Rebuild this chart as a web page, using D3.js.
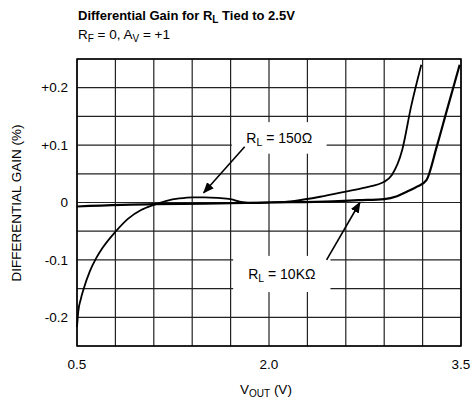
<!DOCTYPE html>
<html>
<head>
<meta charset="utf-8">
<script src="https://cdn.jsdelivr.net/npm/d3@7"></script>
<style>
  body { margin: 0; background: #fff; }
  svg text { font-family: "Liberation Sans", Arial, sans-serif; fill: #000; }
</style>
</head>
<body>
<div id="chart"></div>
<script>
// values
var vOut150 = [0.5, 0.51, 0.53, 0.55, 0.6, 0.65, 0.7, 0.8, 0.9, 1.0, 1.1, 1.2, 1.3, 1.4, 1.5, 1.6, 1.7, 1.78, 1.85, 2.0, 2.2, 2.4, 2.6, 2.75, 2.9, 2.96, 3.04, 3.11, 3.19];
var gain150 = [-0.217, -0.19, -0.168, -0.152, -0.12, -0.097, -0.079, -0.051, -0.028, -0.013, -0.004, 0.003, 0.007, 0.009, 0.009, 0.008, 0.006, 0.001, -0.001, 0.0, 0.003, 0.01, 0.019, 0.026, 0.036, 0.048, 0.091, 0.167, 0.24];
var vOut10k = [0.5, 1.1, 1.5, 2.0, 2.5, 2.7, 2.9, 3.0, 3.08, 3.16, 3.23, 3.31, 3.39, 3.49];
var gain10k = [-0.007, -0.003, -0.002, 0.0, 0.002, 0.004, 0.006, 0.011, 0.019, 0.028, 0.039, 0.097, 0.161, 0.24];
var xTickLabels = ["0.5", "2.0", "3.5"];
var yTickLabels = ["+0.2", "+0.1", "0", "-0.1", "-0.2"];

const margin = { top: 59, right: 14, bottom: 56, left: 77 };
const width = 475 - margin.left - margin.right;
const height = 402 - margin.top - margin.bottom;

const xScale = d3.scaleLinear().domain([0.5, 3.5]).range([0, width]);
const yScale = d3.scaleLinear().domain([-0.25, 0.25]).range([height, 0]);

const root = d3.select('#chart').append('svg')
    .attr('width', 475)
    .attr('height', 402);

root.append('text')
    .attr('x', 78).attr('y', 20)
    .style('font-size', '13px').style('font-weight', 'bold')
    .html('Differential Gain for R<tspan dy="3" font-size="10px">L</tspan><tspan dy="-3"> Tied to 2.5V</tspan>');

root.append('text')
    .attr('x', 78).attr('y', 39)
    .style('font-size', '13.5px')
    .html('R<tspan dy="3" font-size="10px">F</tspan><tspan dy="-3"> = 0, A</tspan><tspan dy="3" font-size="10px">V</tspan><tspan dy="-3"> = +1</tspan>');

const svg = root.append('g')
    .attr('transform', `translate(${margin.left}, ${margin.top})`);

// grid
const gridX = d3.range(0, 11).map(i => 0.5 + i * 0.3);
const gridY = d3.range(0, 11).map(i => -0.25 + i * 0.05);

svg.selectAll('.vgrid').data(gridX).enter().append('line')
    .attr('x1', d => xScale(d)).attr('x2', d => xScale(d))
    .attr('y1', 0).attr('y2', height)
    .attr('stroke', '#222').attr('stroke-width', 1.2);
svg.selectAll('.hgrid').data(gridY).enter().append('line')
    .attr('y1', d => yScale(d)).attr('y2', d => yScale(d))
    .attr('x1', 0).attr('x2', width)
    .attr('stroke', '#222').attr('stroke-width', 1.2);

svg.append('rect')
    .attr('width', width).attr('height', height)
    .attr('fill', 'none').attr('stroke', '#000').attr('stroke-width', 1.5);

// tick labels
svg.selectAll('.ylab').data(yTickLabels).enter().append('text')
    .attr('x', -9)
    .attr('y', d => yScale(+d))
    .attr('dy', '0.35em')
    .attr('text-anchor', 'end')
    .style('font-size', '13.5px')
    .text(d => d);

svg.selectAll('.xlab').data(xTickLabels).enter().append('text')
    .attr('x', d => xScale(+d))
    .attr('y', height + 23)
    .attr('text-anchor', 'middle')
    .style('font-size', '13.5px')
    .text(d => d);

root.append('text')
    .attr('transform', 'translate(21, 203) rotate(-90)')
    .attr('text-anchor', 'middle')
    .style('font-size', '13.5px')
    .text('DIFFERENTIAL GAIN (%)');

root.append('text')
    .attr('x', 240).attr('y', 394)
    .style('font-size', '13.5px')
    .html('V<tspan dy="3" font-size="10px">OUT</tspan><tspan dy="-3"> (V)</tspan>');

// curves
const line = d3.line()
    .x(d => xScale(d[0]))
    .y(d => yScale(d[1]))
    .curve(d3.curveMonotoneX);

svg.append('path')
    .datum(vOut10k.map((v, i) => [v, gain10k[i]]))
    .attr('d', line)
    .attr('fill', 'none').attr('stroke', '#000').attr('stroke-width', 2.2);

svg.append('path')
    .datum(vOut150.map((v, i) => [v, gain150[i]]))
    .attr('d', line)
    .attr('fill', 'none').attr('stroke', '#000').attr('stroke-width', 1.8);

// annotations
svg.append('defs').append('marker')
    .attr('id', 'head')
    .attr('viewBox', '0 0 10 10')
    .attr('refX', 9).attr('refY', 5)
    .attr('markerWidth', 7).attr('markerHeight', 7)
    .attr('orient', 'auto')
    .append('path').attr('d', 'M0,1 L10,5 L0,9 Z').attr('fill', '#000');

function label(v0, v1, g0, g1, parts) {
    svg.append('rect')
        .attr('x', xScale(v0)).attr('y', yScale(g0))
        .attr('width', xScale(v1) - xScale(v0))
        .attr('height', yScale(g1) - yScale(g0))
        .attr('fill', '#fff');
    svg.append('text')
        .attr('x', xScale((v0 + v1) / 2))
        .attr('y', yScale((g0 + g1) / 2) + 5)
        .attr('text-anchor', 'middle')
        .style('font-size', '14px')
        .html(parts);
}

label(1.71, 2.45, 0.14, 0.085, 'R<tspan dy="3" font-size="10.5px">L</tspan><tspan dy="-3"> = 150Ω</tspan>');
label(1.72, 2.48, -0.093, -0.156, 'R<tspan dy="3" font-size="10.5px">L</tspan><tspan dy="-3"> = 10KΩ</tspan>');

svg.append('line')
    .attr('x1', xScale(1.81)).attr('y1', yScale(0.097))
    .attr('x2', xScale(1.49)).attr('y2', yScale(0.017))
    .attr('stroke', '#000').attr('stroke-width', 1.6)
    .attr('marker-end', 'url(#head)');

svg.append('line')
    .attr('x1', xScale(2.45)).attr('y1', yScale(-0.100))
    .attr('x2', xScale(2.71)).attr('y2', yScale(0.0))
    .attr('stroke', '#000').attr('stroke-width', 1.6)
    .attr('marker-end', 'url(#head)');
</script>
</body>
</html>
